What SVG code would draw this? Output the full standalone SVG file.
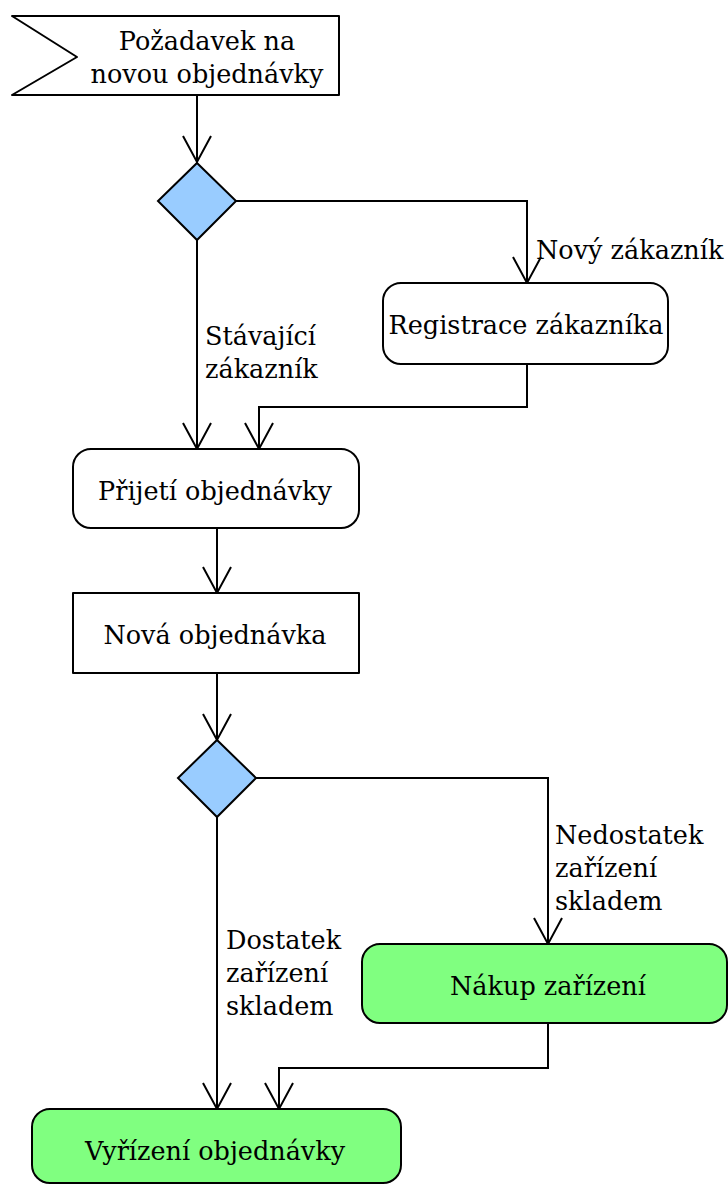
<svg xmlns="http://www.w3.org/2000/svg" width="728" height="1186" viewBox="0 0 728 1186">
<style>
.n{stroke:#000;stroke-width:2;stroke-linejoin:round}
.w{fill:#fff}
.d{fill:#99ccff;stroke-linejoin:miter}
.g{fill:#80ff80}
.t{font-family:"DejaVu Serif","Liberation Serif",serif;font-size:25.5px;fill:#000}
.m{text-anchor:middle}
.c{fill:none;stroke:#000;stroke-width:2}
</style>
<defs>
<marker id="a" markerUnits="userSpaceOnUse" markerWidth="40" markerHeight="40" viewBox="-30 -20 40 40" refX="0" refY="0" orient="auto" overflow="visible">
<path d="M-26,-14 L0,0 L-26,14" fill="none" stroke="#000" stroke-width="2"/>
</marker>
</defs>
<g id="connectors">
<path class="c" d="M197,95 V162" marker-end="url(#a)"/>
<path class="c" d="M236,201 H527 V283" marker-end="url(#a)"/>
<path class="c" d="M197,240 V449" marker-end="url(#a)"/>
<path class="c" d="M527,364 V407 H259 V449" marker-end="url(#a)"/>
<path class="c" d="M217,528 V593" marker-end="url(#a)"/>
<path class="c" d="M217,673 V740" marker-end="url(#a)"/>
<path class="c" d="M256,778 H548 V944" marker-end="url(#a)"/>
<path class="c" d="M217,817 V1109" marker-end="url(#a)"/>
<path class="c" d="M548,1023 V1068 H279 V1109" marker-end="url(#a)"/>
</g>
<g id="labels">
<text class="t" x="536" y="259">Nový zákazník</text>
<text class="t" x="205" y="345">Stávající</text>
<text class="t" x="205" y="378">zákazník</text>
<text class="t" x="555" y="844">Nedostatek</text>
<text class="t" x="555" y="877">zařízení</text>
<text class="t" x="555" y="910">skladem</text>
<text class="t" x="226" y="949">Dostatek</text>
<text class="t" x="226" y="982">zařízení</text>
<text class="t" x="226" y="1015">skladem</text>
</g>
<g id="start">
<path class="n w" d="M12,16 H339 V95 H12 L77,57 Z"/>
<text class="t m" x="207" y="50">Požadavek na</text>
<text class="t m" x="207" y="83">novou objednávky</text>
</g>
<g id="decision1">
<path class="n d" d="M197,163 L236,201 L197,240 L158,201 Z"/>
</g>
<g id="registrace">
<rect class="n w" x="383" y="283" width="285" height="81" rx="18"/>
<text class="t m" x="526" y="334">Registrace zákazníka</text>
</g>
<g id="prijeti">
<rect class="n w" x="73" y="449" width="286" height="79" rx="18"/>
<text class="t m" x="215" y="500">Přijetí objednávky</text>
</g>
<g id="nova">
<rect class="n w" x="73" y="593" width="286" height="80"/>
<text class="t m" x="215" y="644">Nová objednávka</text>
</g>
<g id="decision2">
<path class="n d" d="M217,740 L256,778 L217,817 L178,778 Z"/>
</g>
<g id="nakup">
<rect class="n g" x="362" y="944" width="365" height="79" rx="18"/>
<text class="t m" x="548" y="995">Nákup zařízení</text>
</g>
<g id="vyrizeni">
<rect class="n g" x="32" y="1109" width="369" height="74" rx="18"/>
<text class="t m" x="215" y="1160">Vyřízení objednávky</text>
</g>
</svg>
